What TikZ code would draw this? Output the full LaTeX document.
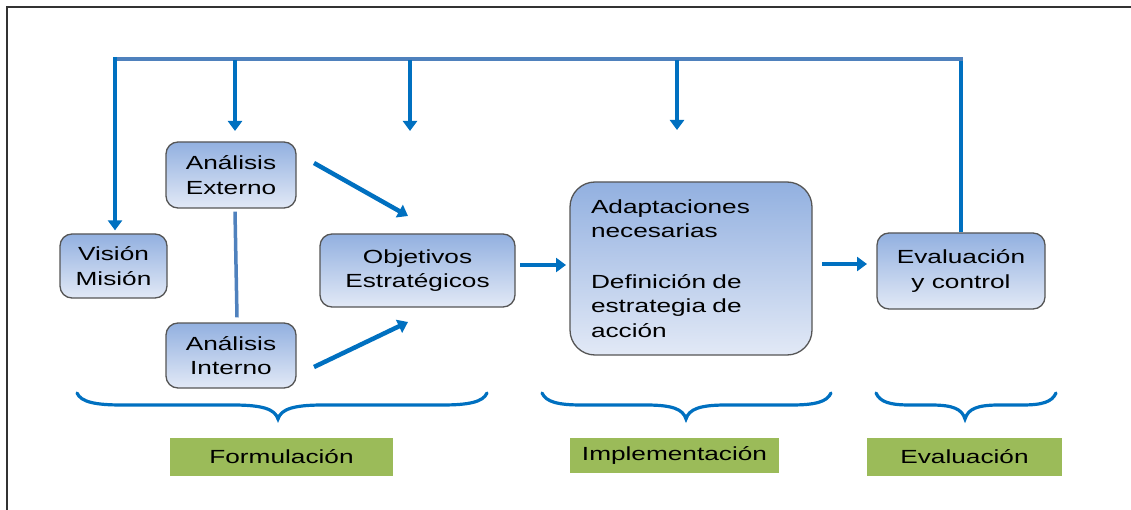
\documentclass[tikz,border=0pt]{standalone}
\usepackage{fontspec}
\setmainfont{Liberation Sans}[FakeStretch=1.38]
\usetikzlibrary{arrows.meta,calc}
\definecolor{arrowblue}{RGB}{0,112,192}
\definecolor{linkblue}{RGB}{79,129,189}
\definecolor{boxtop}{RGB}{146,176,224}
\definecolor{boxbot}{RGB}{226,233,246}
\definecolor{boxedge}{RGB}{85,85,85}
\definecolor{phasegreen}{RGB}{155,187,89}
\newcommand{\diagfont}{\fontsize{19}{24.5}\selectfont}
\newcommand{\phasebrace}[4]{%
  \draw[bracepath] (#1,393) .. controls ({#1+4},402) and ({#1+#4*0.4},405) .. ({#1+#4},405)
    -- ({#2-#4},405) .. controls ({#2-#4*0.35},405) and ({#2-3},409) .. (#2,419)
    .. controls ({#2+3},409) and ({#2+#4*0.35},405) .. ({#2+#4},405)
    -- ({#3-#4},405) .. controls ({#3-#4*0.4},405) and ({#3-4},402) .. (#3,393);}
\tikzset{
  stagebox/.style={draw=boxedge, line width=1.3pt, rounded corners=12pt,
    top color=boxtop, bottom color=boxbot, align=center, font=\diagfont, inner sep=0pt},
  flow/.style={draw=arrowblue, line width=4.5pt, -{Triangle[length=10pt,width=14pt]}},
  feed/.style={draw=arrowblue, line width=4pt},
  topline/.style={draw=linkblue, line width=4pt},
  linkline/.style={draw=linkblue, line width=3.5pt},
  bracepath/.style={draw=arrowblue, line width=3.2pt, line cap=round},
  phase/.style={fill=phasegreen, font=\diagfont, inner sep=0pt},
}
\begin{document}
\begin{tikzpicture}[x=1pt,y=-1pt]
\useasboundingbox (0,0) rectangle (1131,510);
% frame
\draw[line width=2pt, draw=black!80] (7,510) -- (7,7) -- (1131,7);

% boxes
\node[stagebox, minimum width=107pt, minimum height=64pt] (vis) at (113.5,266) {Visión\\Misión};
\node[stagebox, minimum width=130pt, minimum height=66pt] (ext) at (231,175) {Análisis\\Externo};
\node[stagebox, minimum width=130pt, minimum height=65pt] (int) at (231,355.5) {Análisis\\Interno};
\node[stagebox, minimum width=195pt, minimum height=73pt] (obj) at (417.5,270.5) {Objetivos\\Estratégicos};
\node[stagebox, minimum width=242pt, minimum height=173pt, rounded corners=25pt,
      align=left, text width=200pt] (imp) at (691,268.5)
  {Adaptaciones\\necesarias\\[26pt]Definición de\\estrategia de\\acción};
\node[stagebox, minimum width=168pt, minimum height=76pt] (eva) at (961,271) {Evaluación\\y control};

% feedback loop
\coordinate (fbR) at (961,59);
\coordinate (fbL) at (115,59);
\draw[feed] (eva.north) -- ([yshift=2pt]fbR);
\draw[topline] ([xshift=2pt]fbR) -- ([xshift=-2pt]fbL);
\draw[flow, shorten >=3pt] ([yshift=2pt]fbL) -- (fbL |- vis.north);
\coordinate (d1s) at (235,60); \coordinate (d1e) at (235,131);
\coordinate (d2s) at (410,60); \coordinate (d2e) at (410,131);
\coordinate (d3s) at (677,60); \coordinate (d3e) at (677,130);
\draw[flow] (d1s) -- (d1e);
\draw[flow] (d2s) -- (d2e);
\draw[flow] (d3s) -- (d3e);

% analysis arrows
\coordinate (a1s) at (314,163); \coordinate (a1e) at (408,216);
\coordinate (a2s) at (314,367); \coordinate (a2e) at (408,322);
\draw[flow] (a1s) -- (a1e);
\draw[flow] (a2s) -- (a2e);
\draw[linkline] ($(ext.south)+(4,3)$) -- ($(int.north)+(6,-5)$);

% main flow arrows
\coordinate (o1) at (520,265); \coordinate (o2) at (566,265);
\coordinate (e1) at (822,264); \coordinate (e2) at (867,264);
\draw[flow] (o1) -- (o2);
\draw[flow] (e1) -- (e2);

% braces
\phasebrace{77}{278}{487}{45}
\phasebrace{542}{686}{831}{40}
\phasebrace{876}{965}{1056}{34}

% phase labels
\node[phase, minimum width=223pt, minimum height=38pt] (pf) at (281.5,457) {Formulación};
\node[phase, minimum width=209pt, minimum height=35pt] (pi) at (674.5,455.5) {Implementación};
\node[phase, minimum width=195pt, minimum height=38pt] (pe) at (964.5,457) {Evaluación};
\end{tikzpicture}
\end{document}
